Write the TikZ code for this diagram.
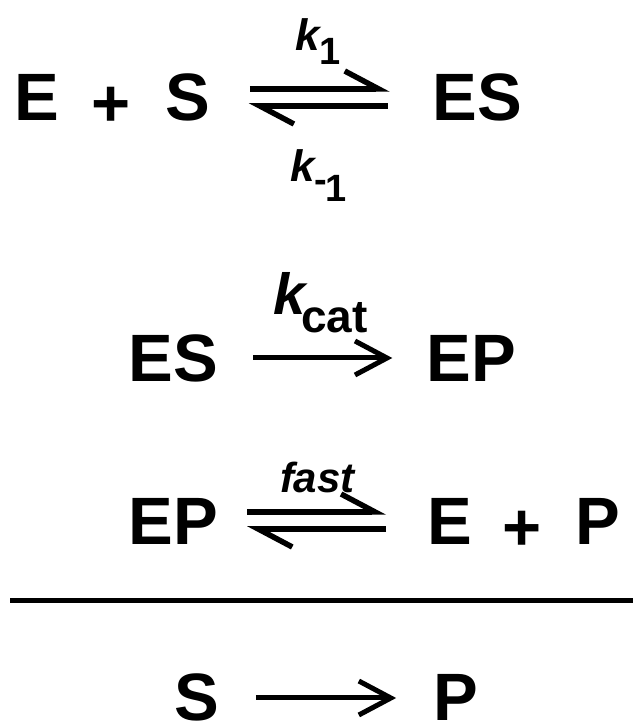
\documentclass[tikz,border=0pt]{standalone}
\usepackage{fontspec}
\setmainfont{Liberation Sans}
\usetikzlibrary{arrows.meta}

\newcommand{\chem}{\fontsize{67}{67}\selectfont\bfseries}
\newcommand{\ratek}[1]{\fontsize{#1}{#1}\selectfont\bfseries\itshape}
\newcommand{\ratesub}[1]{\fontsize{#1}{#1}\selectfont\bfseries}

\tikzset{
  spec/.style={font=\chem, inner sep=0pt, outer sep=0pt, anchor=base},
  rate/.style={inner sep=0pt, outer sep=0pt, anchor=base west},
  harp/.style={line width=5.5pt, -{Straight Barb[harpoon, length=34pt, width=36pt]}},
  fwd/.style={line width=5pt, -{Straight Barb[length=32pt, width=34pt]}},
}

\begin{document}
\begin{tikzpicture}[x=1pt,y=1pt]
\useasboundingbox (0,0) rectangle (633,724);
% binding
\node[spec] (e1) at (37,603) {E};
\node[spec] (plus1) at (111.5,597) {+};
\node[spec] (s1) at (187.5,603) {S};
\node[spec] (es1) at (477.5,603) {ES};
\draw[harp] ([shift={(40,32)}]s1.base east) -- ([shift={(-43,32)}]es1.base west);
\draw[harp] ([shift={(-45,15)}]es1.base west) -- ([shift={(39,15)}]s1.base east);
\node[rate] (k1) at (295,673) {{\ratek{44}k}\raisebox{-14pt}{\ratesub{38}1}};
\node[rate] (km1) at (290,542) {{\ratek{44}k}\raisebox{-20pt}{\ratesub{38}\raisebox{9pt}{-}\kern-2pt 1}};
% catalytic step
\node[spec] (es2) at (173.5,342) {ES};
\node[spec] (ep2) at (471,342) {EP};
\draw[fwd] ([shift={(35,24)}]es2.base east) -- ([shift={(-34,24)}]ep2.base west);
\node[rate] (kcat) at (273,409) {{\ratek{58}k}\kern-4pt\raisebox{-18pt}{\ratesub{46}cat}};
% release
\node[spec] (ep3) at (173.5,179) {EP};
\node[spec] (e3) at (449.5,179) {E};
\node[spec] (plus3) at (522.5,173) {+};
\node[spec] (p3) at (597.5,179) {P};
\draw[harp] ([shift={(29,33)}]ep3.base east) -- ([shift={(-41,33)}]e3.base west);
\draw[harp] ([shift={(-41,16)}]e3.base west) -- ([shift={(29,16)}]ep3.base east);
\node[rate] (fast) at (280,231) {\ratek{42}fast};
% overall
\draw[line width=5pt] (10,123) -- (633,123);
\node[spec] (s4) at (196.5,3) {S};
\node[spec] (p4) at (455.5,3) {P};
\draw[fwd] ([shift={(37,23)}]s4.base east) -- ([shift={(-37,23)}]p4.base west);
\end{tikzpicture}
\end{document}
